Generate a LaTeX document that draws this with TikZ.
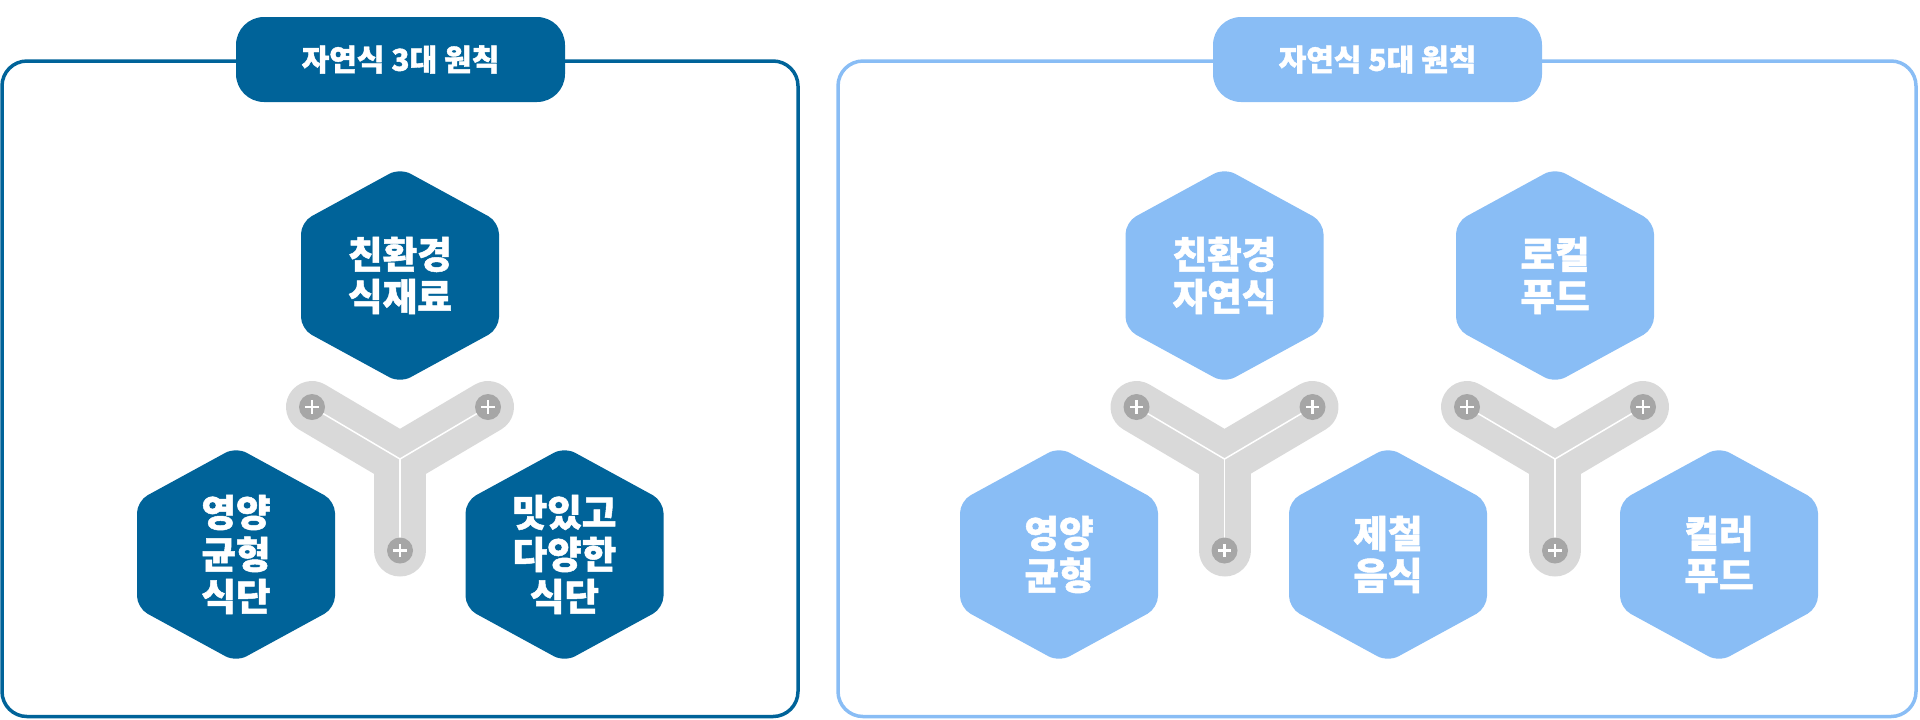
\documentclass[tikz,border=0pt]{standalone}
\usepackage{fontspec}
\newfontfamily\kr{Noto Sans CJK KR}[BoldFeatures={FakeBold=1.3}]
\definecolor{darkblue}{RGB}{0,99,153}
\definecolor{lightblue}{RGB}{137,189,245}
\definecolor{bandgray}{RGB}{217,217,217}
\definecolor{dotgray}{RGB}{166,166,166}
\tikzset{
  panel/.style={line width=1.75pt, rounded corners=12.5pt},
  tab/.style={rounded corners=14pt, minimum width=164.5pt, minimum height=42.5pt, inner sep=0pt,
    text=white, font=\kr\bfseries\fontsize{15}{17}\selectfont},
  hextext/.style={text=white, align=center, inner sep=0pt,
    font=\kr\bfseries\fontsize{18.8}{21}\selectfont},
  band/.style={bandgray, line width=26pt, line cap=round, line join=round},
  thinwhite/.style={white, line width=0.75pt},
  plusdot/.style={circle, fill=dotgray, minimum size=13pt, inner sep=0pt},
  plussign/.style={white, line width=1.3pt}
}
\newcommand\hexat[5]{%
  \begin{scope}[shift={(#2,#3)}]
    \fill[#4, rounded corners=6pt] (99,0) -- (99,53.5) -- (0,107.5) -- (-99,53.5) -- (-99,-53.5) -- (0,-107.5) -- (99,-53.5) -- cycle;
    \node[hextext] (#1) at (0,0) {#5};
  \end{scope}}
\newcommand\plusat[1]{%
  \draw[plussign] ([xshift=-3.3pt]#1.center) -- ([xshift=3.3pt]#1.center);
  \draw[plussign] ([yshift=-3.3pt]#1.center) -- ([yshift=3.3pt]#1.center);}
\newcommand\yconn[3]{%
  \coordinate (#1c) at (#2,#3);
  \coordinate (#1l) at (#2-88,#3-52);
  \coordinate (#1r) at (#2+88,#3-52);
  \coordinate (#1b) at (#2,#3+91.5);
  \draw[band] (#1l) -- (#1c) -- (#1r);
  \draw[band] (#1c) -- (#1b);
  \draw[thinwhite] (#1l) -- (#1c) -- (#1r);
  \draw[thinwhite] (#1c) -- (#1b);
  \node[plusdot] (#1pl) at (#1l) {};
  \node[plusdot] (#1pr) at (#1r) {};
  \node[plusdot] (#1pb) at (#1b) {};
  \plusat{#1pl}\plusat{#1pr}\plusat{#1pb}}
\begin{document}
\begin{tikzpicture}[x=0.5pt,y=-0.5pt]
\useasboundingbox (0,0) rectangle (1920,719);
% left panel
\draw[panel, darkblue] (2,61) rectangle (798,716.5);
\node[tab, fill=darkblue] (t1) at (400.5,59.5) {자연식 3대 원칙};
\yconn{ya}{400}{459}
\hexat{h1}{400}{275.5}{darkblue}{친환경\\식재료}
\hexat{h2}{236}{554.5}{darkblue}{영양\\균형\\식단}
\hexat{h3}{564.5}{554.5}{darkblue}{맛있고\\다양한\\식단}
% right panel
\draw[panel, lightblue] (838,61) rectangle (1916,716.5);
\node[tab, fill=lightblue] (t2) at (1377.5,59.5) {자연식 5대 원칙};
\yconn{yb}{1224.5}{459}
\yconn{yc}{1555}{459}
\hexat{h4}{1224.5}{275.5}{lightblue}{친환경\\자연식}
\hexat{h5}{1555}{275.5}{lightblue}{로컬\\푸드}
\hexat{h6}{1059}{554.5}{lightblue}{영양\\균형}
\hexat{h7}{1388}{554.5}{lightblue}{제철\\음식}
\hexat{h8}{1719}{554.5}{lightblue}{컬러\\푸드}
\end{tikzpicture}
\end{document}
